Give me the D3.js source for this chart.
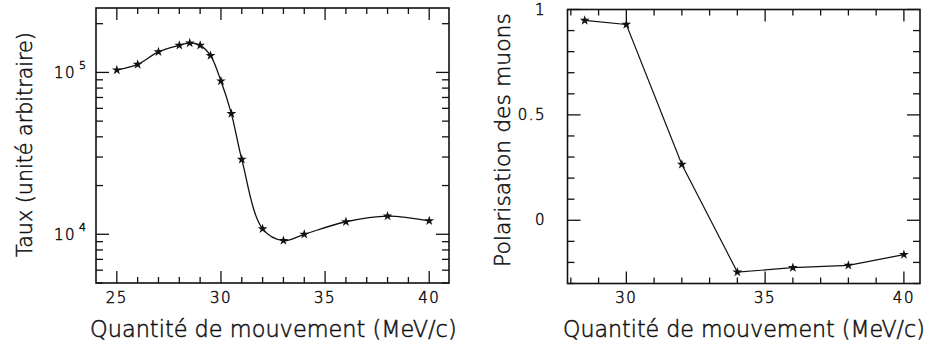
<!DOCTYPE html>
<html><head><meta charset="utf-8">
<script src="https://cdn.jsdelivr.net/npm/d3@7"></script>
<style>
html,body{margin:0;padding:0;background:#fff;}
svg text{font-family:"DejaVu Sans",sans-serif;font-weight:200;fill:#111;stroke:#111;stroke-width:0.5px;}
</style></head>
<body><svg id="c" width="933" height="346"></svg>
<script>
// Left panel: rate vs momentum (log scale)
const rateMomentum = [25, 26, 27, 28, 28.5, 29, 29.5, 30, 30.5, 31, 32, 33, 34, 36, 38, 40];
const rateValues = [103500, 112000, 134000, 147000, 152000, 147000, 127000, 88500, 55700, 29000, 10800, 9140, 10000, 11950, 12950, 12100];
const rateXTicks = [25, 30, 35, 40];
const rateYTicks = [1e4, 1e5];
// Right panel: muon polarisation vs momentum
const polMomentum = [28.5, 30, 32, 34, 36, 38, 40];
const polValues = [0.948, 0.929, 0.265, -0.246, -0.225, -0.214, -0.163];
const polXTicks = [30, 35, 40];
const polYTicks = [0, 0.5, 1];
const xTitle = "Quantité de mouvement (MeV/c)";
const leftYTitle = "Taux (unité arbitraire)";
const rightYTitle = "Polarisation des muons";

const svg = d3.select("#c");
const star = d3.symbol().type(d3.symbolStar).size(30);

function title(sel, width, fs) {
  sel.style("font-size", fs + "px");
  const w = sel.node().getComputedTextLength();
  if (w > width) sel.style("font-size", (fs * width / w) + "px");
}

function frame(g, x, y, xMajor, xMinor, yMajor, yMinor) {
  const [x0, x1] = x.range(), [y0, y1] = y.range();
  const MJ = 12, MN = 6;
  xMinor.forEach(v => {
    const L = xMajor.includes(v) ? MJ : MN;
    g.append("line").attr("x1", x(v)).attr("x2", x(v)).attr("y1", y0).attr("y2", y0 - L).attr("stroke", "#111").attr("stroke-width", 1.3);
    g.append("line").attr("x1", x(v)).attr("x2", x(v)).attr("y1", y1).attr("y2", y1 + L).attr("stroke", "#111").attr("stroke-width", 1.3);
  });
  yMinor.forEach(v => {
    const L = yMajor.some(m => Math.abs(m - v) < 1e-9 * Math.max(1, Math.abs(m))) ? MJ + 1 : MN + 1;
    g.append("line").attr("x1", x0).attr("x2", x0 + L).attr("y1", y(v)).attr("y2", y(v)).attr("stroke", "#111").attr("stroke-width", 1.3);
    g.append("line").attr("x1", x1).attr("x2", x1 - L).attr("y1", y(v)).attr("y2", y(v)).attr("stroke", "#111").attr("stroke-width", 1.3);
  });
  g.append("rect").attr("x", x0).attr("y", y1).attr("width", x1 - x0).attr("height", y0 - y1)
    .attr("fill", "none").attr("stroke", "#111").attr("stroke-width", 1.6);
}

// ---------- Left panel ----------
{
  const x = d3.scaleLinear().domain([24, 40.95]).range([96, 449]);
  const y = d3.scaleLog().domain([5000, 250000]).range([283, 8]);
  const g = svg.append("g");
  const xMinor = d3.range(25, 41, 1);
  const yMinor = [];
  [1e3, 1e4, 1e5].forEach(d => { for (let k = 1; k <= 9; k++) { const v = d * k; if (v >= 5000 && v <= 250000) yMinor.push(v); } });
  frame(g, x, y, rateXTicks, xMinor, rateYTicks, yMinor);

  const line = d3.line().x((d, i) => x(rateMomentum[i])).y(d => y(d)).curve(d3.curveCatmullRom.alpha(0.5));
  g.append("path").datum(rateValues).attr("d", line).attr("fill", "none").attr("stroke", "#111").attr("stroke-width", 1.3);
  g.selectAll(".m").data(rateValues).join("path").attr("d", star)
    .attr("transform", (d, i) => `translate(${x(rateMomentum[i])},${y(d)})`).attr("fill", "#111");

  g.selectAll(".xt").data(rateXTicks).join("text").attr("x", d => x(d)).attr("y", 303)
    .attr("text-anchor", "middle").style("font-size", "15px").style("letter-spacing", "1.5px").text(d => d);
  rateYTicks.forEach(v => {
    g.append("text").attr("x", 76).attr("y", y(v) + 6).attr("text-anchor", "end").style("font-size", "15px").style("letter-spacing", "1.5px").text("10");
    g.append("text").attr("x", 79).attr("y", y(v) - 3).style("font-size", "11px").text(Math.round(Math.log10(v)));
  });
  const xt = g.append("text").attr("x", 90).attr("y", 337).text(xTitle);
  title(xt, 367, 23);
  const yt = g.append("text").attr("transform", "translate(32,257) rotate(-90)").text(leftYTitle);
  title(yt, 225, 23);
}

// ---------- Right panel ----------
{
  const x = d3.scaleLinear().domain([27.88, 40.58]).range([567.5, 920]);
  const y = d3.scaleLinear().domain([-0.3, 1.0]).range([283.5, 9.5]);
  const g = svg.append("g");
  const xMinor = d3.range(28, 41, 1);
  const yMinor = d3.range(-3, 11, 1).map(k => k / 10);
  frame(g, x, y, polXTicks, xMinor, polYTicks, yMinor);

  const line = d3.line().x((d, i) => x(polMomentum[i])).y(d => y(d));
  g.append("path").datum(polValues).attr("d", line).attr("fill", "none").attr("stroke", "#111").attr("stroke-width", 1.2);
  g.selectAll(".m").data(polValues).join("path").attr("d", star)
    .attr("transform", (d, i) => `translate(${x(polMomentum[i])},${y(d)})`).attr("fill", "#111");

  g.selectAll(".xt").data(polXTicks).join("text").attr("x", d => x(d)).attr("y", 303)
    .attr("text-anchor", "middle").style("font-size", "15px").style("letter-spacing", "1.5px").text(d => d);
  g.selectAll(".yt").data(polYTicks).join("text").attr("x", 546).attr("y", d => y(d) + 5)
    .attr("text-anchor", "end").style("font-size", "15px").style("letter-spacing", "1.5px").text(d => d === 0 ? "0" : d === 1 ? "1" : "0.5");
  const xt = g.append("text").attr("x", 563).attr("y", 337).text(xTitle);
  title(xt, 362, 23);
  const yt = g.append("text").attr("transform", "translate(510,267) rotate(-90)").text(rightYTitle);
  title(yt, 254, 23);
}
</script></body></html>
